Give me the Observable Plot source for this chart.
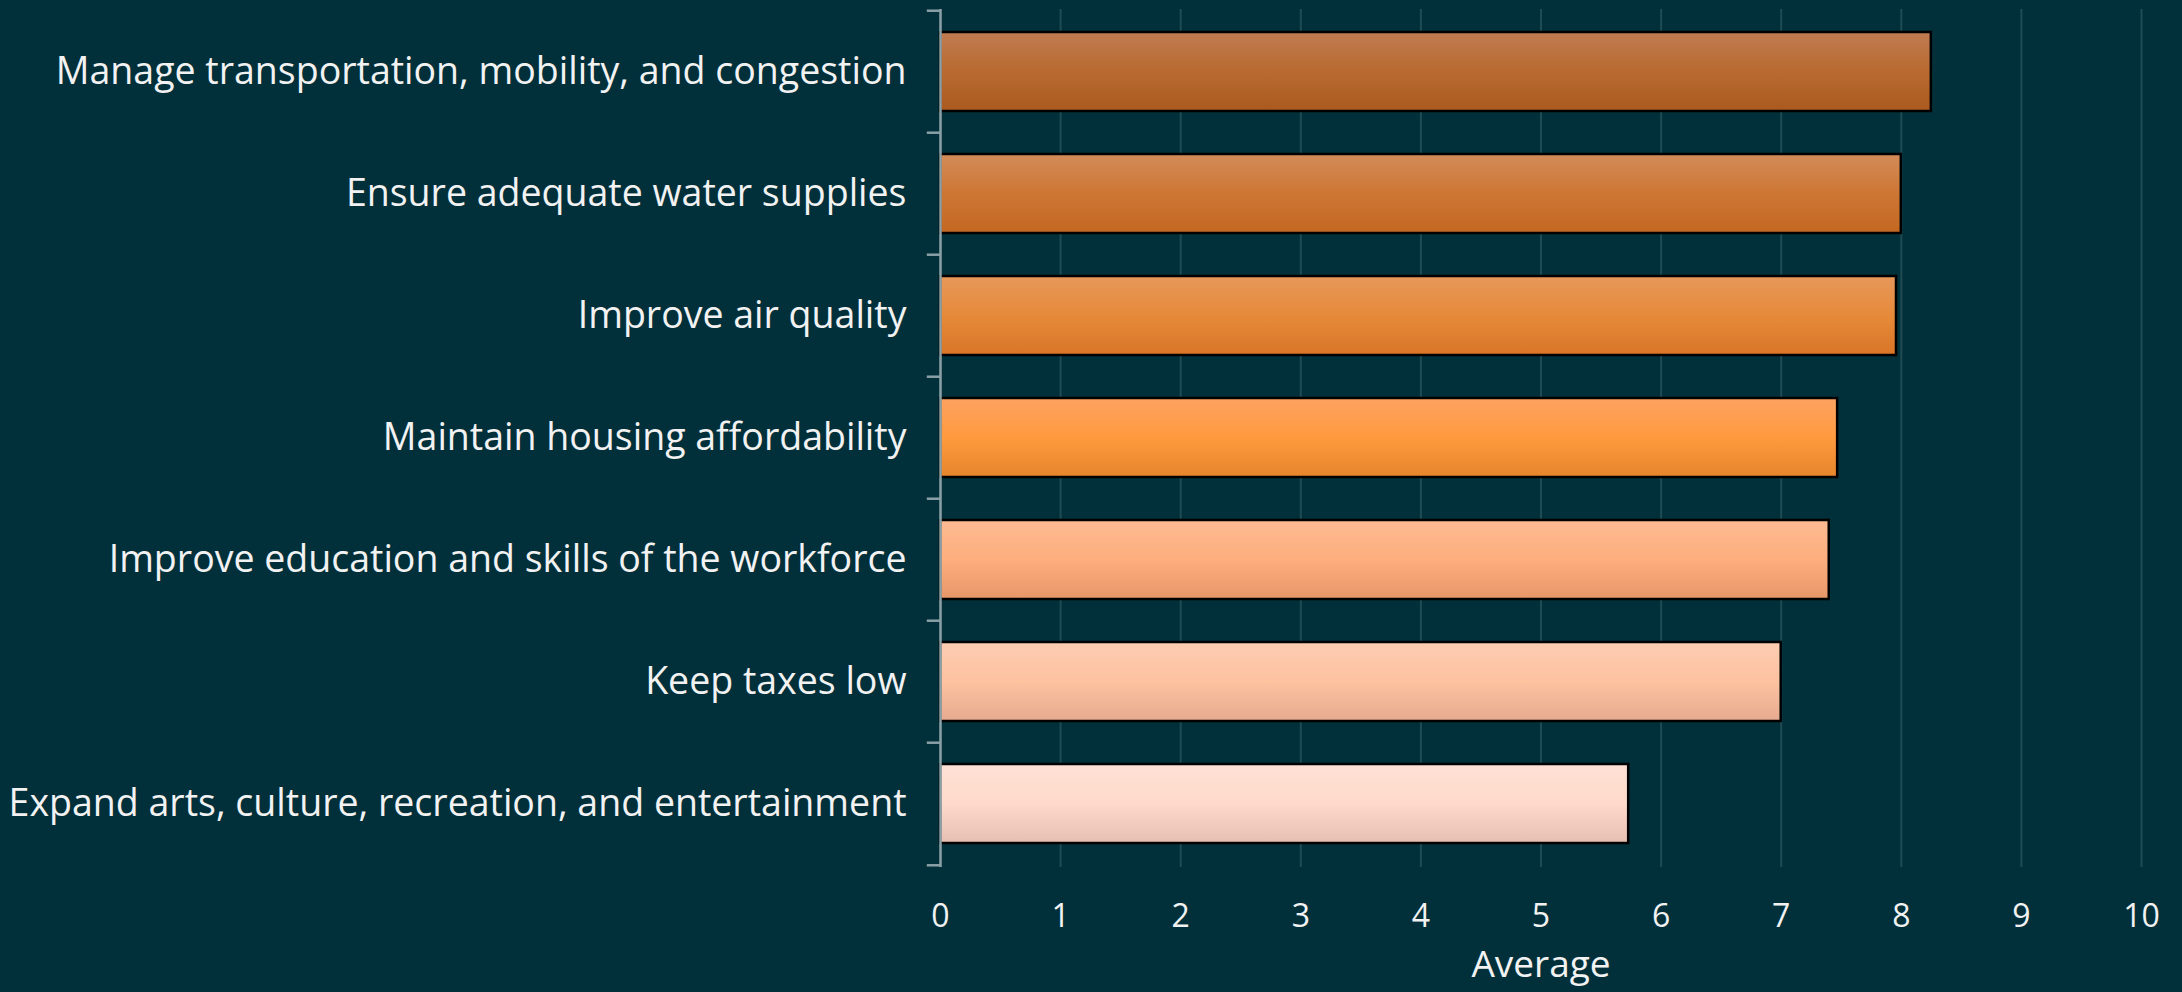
<!DOCTYPE html>
<html>
<head>
<meta charset="utf-8">
<script src="https://cdn.jsdelivr.net/npm/d3@7"></script>
<script src="https://cdn.jsdelivr.net/npm/@observablehq/plot@0.6"></script>
<style>
  html, body { margin: 0; padding: 0; background: #02303a; }
  #chart svg { display: block; }
</style>
</head>
<body>
<div id="chart"></div>
<script>
const categories = [
  "Manage transportation, mobility, and congestion",
  "Ensure adequate water supplies",
  "Improve air quality",
  "Maintain housing affordability",
  "Improve education and skills of the workforce",
  "Keep taxes low",
  "Expand arts, culture, recreation, and entertainment"
];
const averages = [8.25, 8.00, 7.96, 7.47, 7.40, 7.00, 5.73];
const xTicks = [0, 1, 2, 3, 4, 5, 6, 7, 8, 9, 10];
const axisTitle = "Average";

const topColors    = ["#c17c52", "#d38c5a", "#e7985a", "#fda262", "#fdbb92", "#fdcdb2", "#fee1d5"];
const midColors    = ["#b86a30", "#cd7634", "#e68a3a", "#ff9a3e", "#fdae7e", "#fdc2a0", "#fedacb"];
const bottomColors = ["#ab5a1f", "#c36822", "#d97527", "#e6852c", "#e79669", "#e6aa90", "#e6bfb1"];

const data = categories.map((c, i) => ({category: c, value: averages[i], grad: `url(#barGrad${i})`}));

const W = 2182, H = 992;
const mTop = 9, mBottom = 125, mLeft = 940, mRight = 41;
const step = (H - mTop - mBottom) / categories.length;

const chart = Plot.plot({
  width: W,
  height: H,
  marginTop: mTop,
  marginBottom: mBottom,
  marginLeft: mLeft,
  marginRight: mRight,
  style: {background: "#02303a", color: "#f2f2f2", fontFamily: "'Open Sans', Lato, sans-serif"},
  x: {domain: [0, 10], ticks: xTicks},
  y: {domain: categories, paddingInner: 0.35, paddingOuter: 0.175},
  color: {type: "identity"},
  marks: [
    Plot.gridX(xTicks, {stroke: "#1f4c54", strokeOpacity: 1, strokeWidth: 2}),
    Plot.axisX({ticks: xTicks, tickSize: 0, tickPadding: 37, fontSize: 32, label: null, fill: "#f2f2f2"}),
    Plot.axisY({tickSize: 0, tickPadding: 34, fontSize: 37.5, label: null, fill: "#f2f2f2"}),
    Plot.barX(data, {x: "value", y: "category", fill: "grad", stroke: "#000", strokeWidth: 2.5}),
    Plot.ruleX([0], {stroke: "#8aa0a6", strokeWidth: 2.5}),
    Plot.ruleY(categories, {y: d => d, x1: -0.11, x2: 0, dy: -step / 2, stroke: "#8aa0a6", strokeWidth: 2.5}),
    Plot.ruleY(categories.slice(-1), {y: d => d, x1: -0.11, x2: 0, dy: step / 2, stroke: "#8aa0a6", strokeWidth: 2.5}),
    Plot.text([axisTitle], {frameAnchor: "bottom", dy: 98, text: d => d, fontSize: 37, fill: "#f2f2f2", lineAnchor: "middle"})
  ]
});

const defs = d3.select(chart).insert("defs", ":first-child");
categories.forEach((c, i) => {
  const g = defs.append("linearGradient")
    .attr("id", `barGrad${i}`)
    .attr("x1", 0).attr("y1", 0).attr("x2", 0).attr("y2", 1);
  g.append("stop").attr("offset", "0%").attr("stop-color", topColors[i]);
  g.append("stop").attr("offset", "50%").attr("stop-color", midColors[i]);
  g.append("stop").attr("offset", "100%").attr("stop-color", bottomColors[i]);
});

document.getElementById("chart").appendChild(chart);
</script>
</body>
</html>
